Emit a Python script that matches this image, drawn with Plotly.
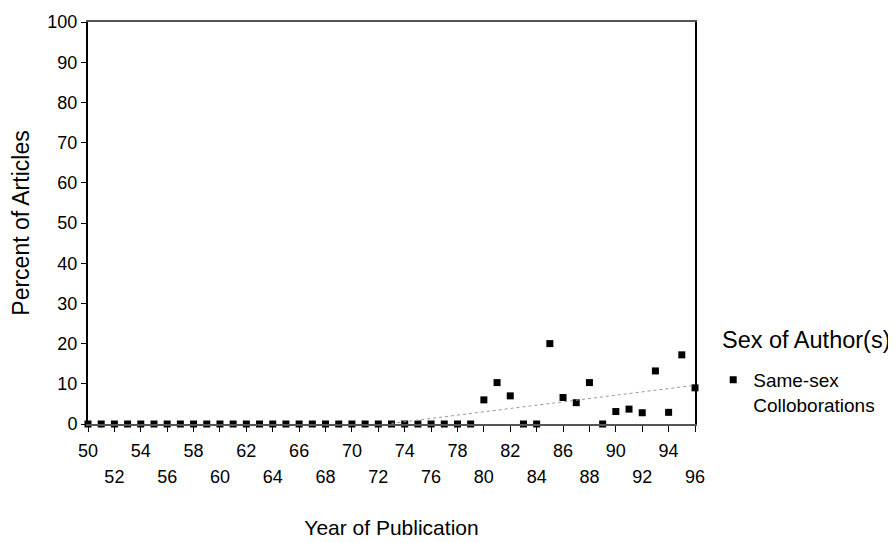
import numpy as np
import plotly.graph_objects as go

years = list(range(50, 97))
same_sex = [0]*30 + [6.0, 10.3, 7.0, 0, 0, 20.0, 6.6, 5.3, 10.3, 0, 3.1, 3.7, 2.8, 13.2, 2.9, 17.2, 9.0]
row1_ticks = list(range(50, 95, 4))
row2_ticks = list(range(52, 97, 4))
y_ticks = list(range(0, 101, 10))

# linear trend over the period where collaborations start appearing
yr = np.array(years, dtype=float)
vals = np.array(same_sex, dtype=float)
sel = yr >= 73
coef = np.polyfit(yr[sel], vals[sel], 1)
trend_x = yr[sel]
trend_y = np.clip(np.polyval(coef, trend_x), 0, None)

FONT = "Liberation Sans, Arial, sans-serif"

fig = go.Figure()
fig.add_trace(go.Scatter(
    x=trend_x, y=trend_y, mode="lines", xaxis="x2",
    line=dict(color="#9a9a9a", width=1, dash="dot"),
    showlegend=False, hoverinfo="skip"))
fig.add_trace(go.Scatter(
    x=years, y=same_sex, mode="markers", name="Same-sex<br>Colloborations",
    marker=dict(symbol="square", size=7, color="black"),
    cliponaxis=False))

all_even = list(range(50, 97, 2))
fig.update_layout(
    width=896, height=543,
    margin=dict(l=80, r=209, t=14, b=127, autoexpand=False),
    paper_bgcolor="white", plot_bgcolor="white",
    font=dict(family=FONT, color="black", size=17),
    xaxis=dict(
        range=[50, 96], tickvals=all_even, automargin=False,
        ticktext=[str(v) if v in row1_ticks else "" for v in all_even],
        ticks="outside", ticklen=6, tickwidth=1, tickcolor="black",
        showline=True, linecolor="#555", linewidth=1.5, mirror=True,
        showgrid=False, zeroline=False,
        tickfont=dict(size=18), ticklabelstandoff=4,
        title=dict(text="Year of Publication", font=dict(size=21), standoff=60),
    ),
    xaxis2=dict(
        range=[50, 96], overlaying="x", anchor="y", side="bottom", automargin=False,
        tickvals=row2_ticks, ticktext=[str(v) for v in row2_ticks],
        ticks="", showline=False, showgrid=False, zeroline=False,
        tickfont=dict(size=18), ticklabelstandoff=40,
    ),
    yaxis=dict(
        range=[0, 100], tickvals=y_ticks, automargin=False,
        ticks="outside", ticklen=5, tickwidth=1, tickcolor="black",
        showline=True, linecolor="black", linewidth=2, mirror=True,
        showgrid=False, zeroline=False,
        tickfont=dict(size=18), ticklabelstandoff=0,
        title=dict(text="Percent of Articles", font=dict(size=23), standoff=18),
    ),
    legend=dict(
        x=1.03, xanchor="left", y=0.157, yanchor="top",
        font=dict(size=19), bgcolor="rgba(0,0,0,0)", valign="top",
    ),
    annotations=[dict(
        text="Sex of Author(s)", x=1.041, xanchor="left", y=0.209, yanchor="middle",
        xref="paper", yref="paper", showarrow=False, font=dict(size=23.5),
    )],
)
fig.write_html("out.html")
